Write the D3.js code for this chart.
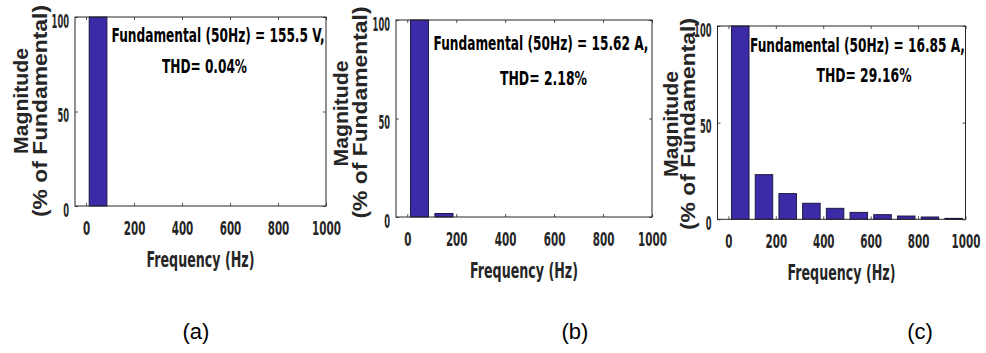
<!DOCTYPE html>
<html>
<head>
<meta charset="utf-8">
<script src="https://cdn.jsdelivr.net/npm/d3@7"></script>
<style>
html, body { margin: 0; padding: 0; background: #fff; }
svg { display: block; }
</style>
</head>
<body>
<svg id="fig" width="986" height="353"></svg>
<script>
// harmonic spectra, % of fundamental
var harmonicFreqs = [50, 150, 250, 350, 450, 550, 650, 750, 850, 950];
var magA = [100, 0, 0, 0, 0, 0, 0, 0, 0, 0];
var magB = [100, 1.8, 0, 0, 0, 0, 0, 0, 0, 0];
var magC = [100, 23.1, 13.3, 8.3, 5.7, 3.6, 2.4, 1.7, 1.2, 0.5];
var xTicks = [0, 200, 400, 600, 800, 1000];
var yTicks = [0, 50, 100];
var fundLabels = ['Fundamental (50Hz) = 155.5 V,', 'Fundamental (50Hz) = 15.62 A,', 'Fundamental (50Hz) = 16.85 A,'];
var thdLabels = ['THD= 0.04%', 'THD= 2.18%', 'THD= 29.16%'];
var captions = ['(a)', '(b)', '(c)'];

(function() {
    'use strict';

    var NARROW = '"Liberation Sans Narrow", "DejaVu Sans Condensed", "Liberation Sans", sans-serif',
        BAR_FILL = '#3b2ba6',
        INK = '#262626';

    // where each of the three MATLAB axes sits in the picture
    var panels = [
        {mags: magA, box: [75, 326, 17, 206], lab: [-54, -35], labY: [101, 111],
            l1: [218, 41.5, 213], l2: [204.5, 72.5, 85], cap: 196},
        {mags: magB, box: [396, 652, 20, 217], lab: [-55.5, -36.5], labY: [113.5, 112.5],
            l1: [541, 50, 215], l2: [543.5, 85, 87], cap: 575},
        {mags: magC, box: [717.5, 965.5, 26, 219.3], lab: [-47, -30], labY: [124, 124],
            l1: [857.5, 51.5, 215], l2: [864, 81.5, 95], cap: 920}
    ];

    var svg = d3.select('#fig');
    var fmt = d3.format('d');

    function fit(sel, w) {
        return sel.attr('textLength', w).attr('lengthAdjust', 'spacingAndGlyphs');
    }

    panels.forEach(function(p, i) {
        var left = p.box[0], right = p.box[1], top = p.box[2], bottom = p.box[3];
        var x = d3.scaleLinear().domain([-46, 1000]).range([left, right]);
        var y = d3.scaleLinear().domain([0, 100]).range([bottom, top]);
        var g = svg.append('g').attr('class', 'panel');
        var bw = x(74) - x(0);

        // bars
        var data = harmonicFreqs.map(function(f, k) {
            return {f: f, v: p.mags[k]};
        }).filter(function(d) { return d.v > 0; });

        g.selectAll('rect.bar').data(data).enter().append('rect')
            .attr('class', 'bar')
            .attr('x', function(d) { return x(d.f) - bw / 2; })
            .attr('y', function(d) { return y(d.v); })
            .attr('width', bw)
            .attr('height', function(d) { return y(0) - y(d.v); })
            .attr('fill', BAR_FILL)
            .attr('stroke', '#14123a')
            .attr('stroke-width', 0.9);

        // axes, ticks pointing inward like MATLAB's box
        var ax = [
            d3.axisBottom(x).tickValues(xTicks).tickSizeInner(-3).tickSizeOuter(0).tickFormat(fmt),
            d3.axisTop(x).tickValues(xTicks).tickSizeInner(-3).tickSizeOuter(0).tickFormat(''),
            d3.axisLeft(y).tickValues(yTicks).tickSizeInner(-3).tickSizeOuter(0).tickFormat(fmt),
            d3.axisRight(y).tickValues(yTicks).tickSizeInner(-3).tickSizeOuter(0).tickFormat('')
        ];
        var pos = ['translate(0,' + bottom + ')', 'translate(0,' + top + ')',
            'translate(' + left + ',0)', 'translate(' + right + ',0)'];
        var axg = ax.map(function(a, k) {
            var ag = g.append('g').attr('transform', pos[k]).call(a);
            ag.select('.domain').remove();
            ag.selectAll('.tick line').attr('stroke', INK).attr('stroke-width', 0.8);
            return ag;
        });

        axg[0].selectAll('.tick text')
            .attr('y', 22).attr('dy', '0.35em')
            .attr('fill', INK)
            .style('font-family', NARROW).style('font-size', '20px').style('font-weight', 'bold')
            .each(function(d) { fit(d3.select(this), fmt(d).length * 7.2); });

        axg[2].selectAll('.tick text')
            .attr('x', -6).attr('y', 3).attr('dy', '0.35em')
            .attr('fill', INK)
            .style('font-family', NARROW).style('font-size', '20px').style('font-weight', 'bold')
            .each(function(d) { fit(d3.select(this), fmt(d).length * 5.8); });

        // box
        g.append('rect')
            .attr('x', left).attr('y', top)
            .attr('width', right - left).attr('height', bottom - top)
            .attr('fill', 'none').attr('stroke', INK).attr('stroke-width', 1);

        // axis titles
        fit(g.append('text')
            .attr('x', (left + right) / 2).attr('y', bottom + 61)
            .attr('text-anchor', 'middle').attr('fill', INK)
            .style('font-family', NARROW).style('font-size', '22px').style('font-weight', 'bold')
            .text('Frequency (Hz)'), 108);

        var ylab = [['Magnitude', 106], ['(% of Fundamental)', 212]];
        ylab.forEach(function(t, k) {
            fit(g.append('text')
                .attr('transform', 'translate(' + (left + p.lab[k]) + ',' + p.labY[k] + ') rotate(-90)')
                .attr('text-anchor', 'middle').attr('dy', '0.35em').attr('fill', INK)
                .style('font-family', '"Liberation Sans", Arial, sans-serif')
                .style('font-size', '20px').style('font-weight', 'bold')
                .text(t[0]), t[1]);
        });

        // annotation
        fit(g.append('text')
            .attr('x', p.l1[0]).attr('y', p.l1[1]).attr('text-anchor', 'middle').attr('fill', '#000')
            .style('font-family', NARROW).style('font-size', '20px').style('font-weight', 'bold')
            .text(fundLabels[i]), p.l1[2]);
        fit(g.append('text')
            .attr('x', p.l2[0]).attr('y', p.l2[1]).attr('text-anchor', 'middle').attr('fill', '#000')
            .style('font-family', NARROW).style('font-size', '20px').style('font-weight', 'bold')
            .text(thdLabels[i]), p.l2[2]);

        // caption
        svg.append('text')
            .attr('x', p.cap).attr('y', 339).attr('text-anchor', 'middle').attr('fill', '#000')
            .style('font-family', '"Liberation Sans", "Open Sans", sans-serif')
            .style('font-size', '22px')
            .text(captions[i]);
    });
}());
</script>
</body>
</html>
